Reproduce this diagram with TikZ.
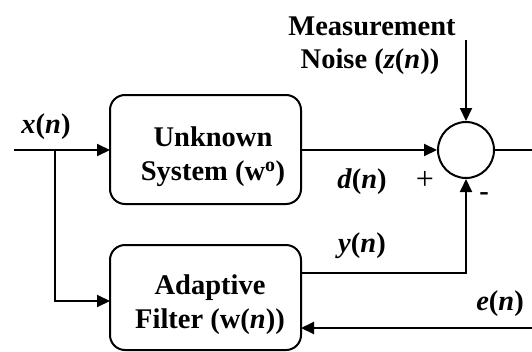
\documentclass[tikz,border=0pt]{standalone}
\usepackage{fontspec}
\setmainfont{Liberation Serif}
\usetikzlibrary{arrows.meta}
\begin{document}
\begin{tikzpicture}[x=1pt,y=-1pt,
  line width=2pt,
  blk/.style={draw,rounded corners=15pt},
  lbl/.style={font=\fontsize{28.5}{34}\selectfont\bfseries,align=center,inner sep=0pt},
  arr/.style={-{Triangle[length=13pt,width=12pt]}}]
\useasboundingbox (0,0) rectangle (532,351);
\draw[blk] (110,95) rectangle (301,204);
\node[lbl] (us) at (213,157) {Unknown\\System (w\textsuperscript{o})};
\draw[blk] (110,245) rectangle (301,350);
\node[lbl] (af) at (210,305) {Adaptive\\Filter (w(\textit{n}))};
\coordinate (usl) at (110,150);
\coordinate (usr) at (301,150);
\coordinate (afl) at (110,301);
\coordinate (afr) at (301,273);
\coordinate (afe) at (301,328);
\node[draw,circle,minimum size=56pt,inner sep=0pt] (sum) at (466,150) {};
\coordinate (xin) at (14,150);
\coordinate (br) at (55,150);
\coordinate (out) at (532,150);
\coordinate (nz) at (466,40);
\coordinate (ein) at (532,328);
\draw[arr] (xin) -- (usl);
\draw[arr] (br) |- (afl);
\draw[arr] (usr) -- (sum.west);
\draw (sum.east) -- (out);
\draw[arr] (nz) -- (sum.north);
\draw[arr] (afr) -| (sum.south);
\draw[arr] (ein) -- (afe);
\node[lbl,anchor=base] (xl) at (46,133) {\textit{x}(\textit{n})};
\node[lbl,anchor=base] (ml) at (372,35) {Measurement};
\node[lbl,anchor=base] (nl) at (370,68) {Noise (\textit{z}(\textit{n}))};
\node[lbl,anchor=base] (dl) at (362,188) {\textit{d}(\textit{n})};
\node[lbl,anchor=base] (yl) at (362,252) {\textit{y}(\textit{n})};
\node[lbl,anchor=base] (el) at (500,310) {\textit{e}(\textit{n})};
\node[font=\fontsize{32}{34}\selectfont,inner sep=0pt] (pl) at (425,180) {+};
\node[lbl] (ml2) at (484,197) {-};
\end{tikzpicture}
\end{document}
